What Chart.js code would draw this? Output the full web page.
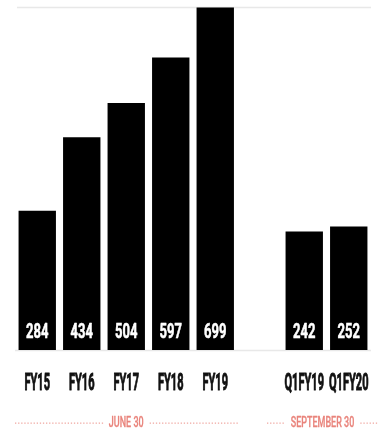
<!DOCTYPE html>
<html>
<head>
<meta charset="utf-8">
<script src="https://cdn.jsdelivr.net/npm/chart.js@4/dist/chart.umd.min.js"></script>
<style>
  html, body { margin: 0; padding: 0; background: #fff; overflow: hidden; }
  #wrap { width: 380px; height: 435px; position: relative; }
</style>
</head>
<body>
<div id="wrap"><canvas id="c"></canvas></div>
<script>
// Periods shown on the x axis (the empty slot separates the two groups)
const categories = ['FY15', 'FY16', 'FY17', 'FY18', 'FY19', '', 'Q1FY19', 'Q1FY20'];
// Values per period
const values = [284, 434, 504, 597, 699, null, 242, 252];
// Period-end captions and the category index range each one spans
const groupLabels = ['JUNE 30', 'SEPTEMBER 30'];
const groupRanges = [[0, 4], [6, 7]];

const FONT = 'Roboto, "Noto Sans", sans-serif';
const PINK = '#e9847c';
const DOTS = '#f0aaa4';

// draw text squeezed horizontally for a condensed look, optionally thickened
function narrowText(ctx, text, x, y, squeeze, weight) {
  ctx.save();
  ctx.translate(x, y);
  ctx.scale(squeeze, 1);
  ctx.fillText(text, 0, 0);
  if (weight) {
    ctx.strokeStyle = ctx.fillStyle;
    ctx.lineWidth = weight;
    ctx.lineJoin = 'round';
    ctx.strokeText(text, 0, 0);
  }
  ctx.restore();
}

const decorations = {
  id: 'decorations',
  beforeDatasetsDraw(chart) {
    const { ctx, chartArea: a, scales: { y } } = chart;
    ctx.save();
    ctx.strokeStyle = '#e8e8e8';
    ctx.lineWidth = 1.5;
    const top = Math.round(y.getPixelForValue(700)) + 0.5;
    const base = Math.round(y.getPixelForValue(0)) + 0.5;
    ctx.beginPath();
    ctx.moveTo(a.left + 2, top); ctx.lineTo(a.right, top);
    ctx.moveTo(a.left, base); ctx.lineTo(a.right, base);
    ctx.stroke();
    ctx.restore();
  },
  afterDatasetsDraw(chart) {
    const { ctx, scales: { x, y } } = chart;
    const meta = chart.getDatasetMeta(0);
    const base = y.getPixelForValue(0);
    ctx.save();
    ctx.textAlign = 'center';
    ctx.textBaseline = 'middle';

    // value labels inside the bottom of each bar
    ctx.fillStyle = '#ffffff';
    ctx.font = 'bold 21px ' + FONT;
    meta.data.forEach((bar, i) => {
      if (values[i] == null) return;
      narrowText(ctx, String(values[i]), bar.x, base - 17, 0.62, 0.6);
    });

    // category labels under the axis
    ctx.fillStyle = '#111111';
    ctx.font = 'bold 24px ' + FONT;
    categories.forEach((c, i) => {
      if (!c) return;
      narrowText(ctx, c, x.getPixelForTick(i), base + 34, 0.46, 1.0);
    });

    // period-end captions with dotted leaders
    const rowY = 423;
    const half = (x.getPixelForValue(1) - x.getPixelForValue(0)) / 2;
    ctx.font = '500 15px ' + FONT;
    groupRanges.forEach((r, gi) => {
      const left = x.getPixelForValue(r[0]) - half - (gi ? 15 : 0);
      const right = x.getPixelForValue(r[1]) + half + (gi ? 7 : 0);
      const mid = (left + right) / 2;
      const text = groupLabels[gi];
      const w = ctx.measureText(text).width * 0.6;
      ctx.fillStyle = PINK;
      narrowText(ctx, text, mid, rowY, 0.6, 0.3);
      ctx.fillStyle = DOTS;
      const dot = (from, to) => {
        for (let px = from; px <= to; px += 3.1) {
          ctx.fillRect(px, rowY - 0.5, 1.3, 1.3);
        }
      };
      dot(left, mid - w / 2 - 7);
      dot(mid + w / 2 + 6, right);
    });
    ctx.restore();
  }
};

new Chart(document.getElementById('c'), {
  type: 'bar',
  data: {
    labels: categories,
    datasets: [{
      data: values,
      backgroundColor: '#000000',
      borderWidth: 0,
      barPercentage: 0.84,
      categoryPercentage: 1.0
    }]
  },
  options: {
    responsive: true,
    maintainAspectRatio: false,
    animation: false,
    layout: { autoPadding: false, padding: { left: 15, right: 9, top: 7, bottom: 0 } },
    plugins: { legend: { display: false }, tooltip: { enabled: false } },
    scales: {
      x: {
        grid: { display: false, drawTicks: false },
        border: { display: false },
        ticks: { display: false },
        afterFit(scale) { scale.height = 85; }
      },
      y: {
        display: false,
        min: 0,
        max: 700
      }
    }
  },
  plugins: [decorations]
});
</script>
</body>
</html>
